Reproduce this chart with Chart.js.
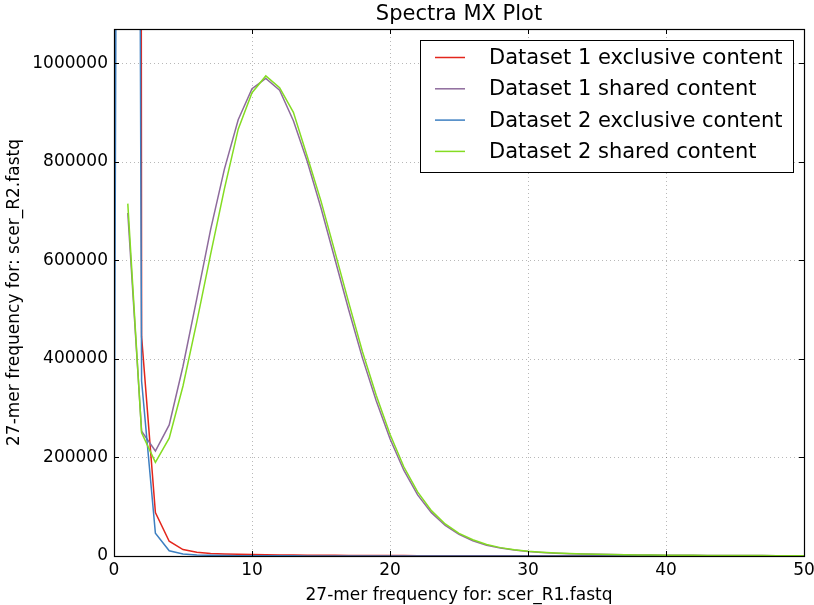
<!DOCTYPE html>
<html>
<head>
<meta charset="utf-8">
<script src="https://cdn.jsdelivr.net/npm/chart.js@4.4.0/dist/chart.umd.min.js"></script>
<style>
  html, body { margin: 0; padding: 0; background: #ffffff; }
  #wrap { width: 814px; height: 605px; }
</style>
</head>
<body>
<div id="wrap"><canvas id="c" width="814" height="605"></canvas></div>
<script>
// ---- data ----
const titleText = "Spectra MX Plot";
const xAxisLabel = "27-mer frequency for: scer_R1.fastq";
const yAxisLabel = "27-mer frequency for: scer_R2.fastq";
const seriesLabels = ["Dataset 1 exclusive content", "Dataset 1 shared content", "Dataset 2 exclusive content", "Dataset 2 shared content"];
const seriesColors = ["#e3261c", "#8e6b9c", "#3d7fc1", "#84dc22"];

const freqs = [0,1,2,3,4,5,6,7,8,9,10,11,12,13,14,15,16,17,18,19,20,21,22,23,24,25,26,27,28,29,30,31,32,33,34,35,36,37,38,39,40,41,42,43,44,45,46,47,48,49,50];

const d1Exclusive = [0, 30000000, 445000, 88000, 30000, 13000, 7500, 5200, 4000, 3300, 2800, 2400, 2100, 1850, 1650, 1500, 1350, 1200, 1100, 1000, 900, 820, 750, 690, 640, 590, 550, 510, 480, 450, 420, 395, 370, 350, 330, 310, 295, 280, 265, 250, 240, 228, 216, 205, 195, 186, 177, 169, 161, 154, 147];
const d1Shared = [null, 696000, 253000, 213000, 266000, 385000, 522000, 662000, 785000, 885000, 948000, 969000, 945000, 883000, 801000, 706000, 603000, 500000, 402000, 315000, 238000, 174000, 124000, 88000, 62000, 44000, 31000, 22000, 16000, 12000, 9200, 7200, 5800, 4700, 3900, 3300, 2800, 2400, 2100, 1850, 1650, 1480, 1330, 1200, 1080, 980, 890, 810, 740, 680, 620];
const d2Exclusive = [0, 8000000, 355000, 46000, 10500, 4200, 2200, 1400, 950, 700, 540, 430, 350, 290, 245, 210, 180, 155, 135, 120, 105, 95, 85, 77, 70, 64, 58, 53, 49, 45, 42, 39, 36, 34, 32, 30, 28, 26, 25, 23, 22, 21, 20, 19, 18, 17, 16, 15, 15, 14, 13];
const d2Shared = [null, 715000, 250000, 190000, 239000, 345000, 475000, 612000, 745000, 866000, 940000, 974000, 950000, 900000, 811000, 720000, 618000, 515000, 415000, 326000, 247000, 181000, 130000, 92000, 65000, 46000, 33000, 23500, 17000, 12600, 9700, 7600, 6100, 4950, 4100, 3450, 2900, 2500, 2150, 1900, 1700, 1520, 1370, 1230, 1110, 1000, 910, 830, 760, 700, 640];

const xTicks = [0, 10, 20, 30, 40, 50];
const yTicks = [0, 200000, 400000, 600000, 800000, 1000000];
const xMax = 50;
const yMax = 1069200;

// ---- build chart ----
const allSeries = [d1Exclusive, d1Shared, d2Exclusive, d2Shared];
function toPoints(arr) {
  return freqs.map((f, i) => ({ x: f, y: arr[i] }));
}
const datasets = allSeries.map((arr, k) => ({
  label: seriesLabels[k],
  data: toPoints(arr),
  borderColor: seriesColors[k],
  backgroundColor: seriesColors[k],
  borderWidth: 1.5,
  pointRadius: 0,
  tension: 0,
  fill: false,
  spanGaps: false,
  order: 4 - k
}));

const FONT = "'DejaVu Sans', 'Liberation Sans', sans-serif";

const decorPlugin = {
  id: 'decor',
  beforeDatasetsDraw(chart) {
    const { ctx, chartArea: a, scales } = chart;
    ctx.save();
    ctx.strokeStyle = 'rgba(0,0,0,0.28)';
    ctx.lineWidth = 1;
    ctx.setLineDash([1, 3]);
    xTicks.forEach(v => {
      const px = Math.round(scales.x.getPixelForValue(v)) + 0.5;
      if (px <= a.left + 1 || px >= a.right - 1) return;
      ctx.beginPath(); ctx.moveTo(px, a.top); ctx.lineTo(px, a.bottom); ctx.stroke();
    });
    yTicks.forEach(v => {
      const py = Math.round(scales.y.getPixelForValue(v)) + 0.5;
      if (py >= a.bottom - 1 || py <= a.top + 1) return;
      ctx.beginPath(); ctx.moveTo(a.left, py); ctx.lineTo(a.right, py); ctx.stroke();
    });
    ctx.restore();
  },
  afterDatasetsDraw(chart) {
    const { ctx, chartArea: a, scales } = chart;
    ctx.save();
    ctx.setLineDash([]);
    ctx.strokeStyle = '#000';
    ctx.lineWidth = 1.2;
    ctx.strokeRect(Math.round(a.left) + 0.5, Math.round(a.top) + 0.5, Math.round(a.right - a.left), Math.round(a.bottom - a.top));
    ctx.lineWidth = 1;
    const tl = 5;
    xTicks.forEach(v => {
      const px = Math.round(scales.x.getPixelForValue(v)) + 0.5;
      ctx.beginPath();
      ctx.moveTo(px, a.bottom); ctx.lineTo(px, a.bottom - tl);
      ctx.moveTo(px, a.top); ctx.lineTo(px, a.top + tl);
      ctx.stroke();
    });
    yTicks.forEach(v => {
      const py = Math.round(scales.y.getPixelForValue(v)) + 0.5;
      ctx.beginPath();
      ctx.moveTo(a.left, py); ctx.lineTo(a.left + tl, py);
      ctx.moveTo(a.right, py); ctx.lineTo(a.right - tl, py);
      ctx.stroke();
    });
    ctx.fillStyle = '#000';
    ctx.font = '21px ' + FONT;
    ctx.textAlign = 'center';
    ctx.textBaseline = 'middle';
    ctx.fillText(titleText, (a.left + a.right) / 2, 15);
    const bx = 420.5, by = 40.5, bw = 373, bh = 132;
    ctx.fillStyle = '#fff';
    ctx.fillRect(bx, by, bw, bh);
    ctx.strokeStyle = '#000';
    ctx.lineWidth = 1;
    ctx.strokeRect(bx, by, bw, bh);
    ctx.font = '21px ' + FONT;
    ctx.textAlign = 'left';
    ctx.textBaseline = 'middle';
    chart.data.datasets.forEach((ds, i) => {
      const y = 57.5 + i * 31.3;
      ctx.strokeStyle = ds.borderColor;
      ctx.lineWidth = 1.5;
      ctx.beginPath(); ctx.moveTo(435, y); ctx.lineTo(465, y); ctx.stroke();
      ctx.fillStyle = '#000';
      ctx.fillText(ds.label, 489, y + 1);
    });
    ctx.restore();
  }
};

new Chart(document.getElementById('c'), {
  type: 'line',
  data: { datasets },
  options: {
    responsive: false,
    devicePixelRatio: 1,
    animation: false,
    layout: { padding: { top: 29, right: 10, left: 0, bottom: 0 } },
    plugins: {
      legend: { display: false },
      title: { display: false },
      tooltip: { enabled: false }
    },
    scales: {
      x: {
        type: 'linear',
        min: 0,
        max: xMax,
        grid: { display: false, drawTicks: false },
        border: { display: false },
        afterBuildTicks(scale) { scale.ticks = xTicks.map(v => ({ value: v })); },
        ticks: {
          color: '#000',
          font: { family: FONT, size: 17 },
          padding: 4,
          maxRotation: 0,
          autoSkip: false,
          callback: v => String(v)
        },
        title: {
          display: true,
          text: xAxisLabel,
          color: '#000',
          font: { family: FONT, size: 17 },
          padding: { top: 0, bottom: -1 }
        },
        afterFit(scale) { scale.height = 49; scale.paddingLeft = 0; scale.paddingRight = 0; }
      },
      y: {
        type: 'linear',
        min: 0,
        max: yMax,
        grid: { display: false, drawTicks: false },
        border: { display: false },
        afterBuildTicks(scale) { scale.ticks = yTicks.map(v => ({ value: v })); },
        ticks: {
          color: '#000',
          font: { family: FONT, size: 17 },
          padding: 6,
          autoSkip: false,
          callback: v => String(v)
        },
        title: {
          display: true,
          text: yAxisLabel,
          color: '#000',
          font: { family: FONT, size: 17 },
          padding: { top: 4, bottom: 0 }
        },
        afterFit(scale) { scale.width = 114; scale.paddingTop = 0; scale.paddingBottom = 0; }
      }
    }
  },
  plugins: [decorPlugin]
});
</script>
</body>
</html>
